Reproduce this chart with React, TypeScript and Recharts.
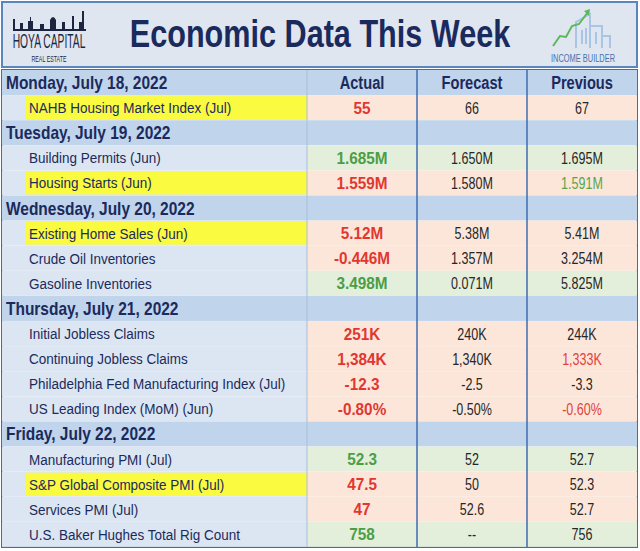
import React from 'react';
import { BarChart, Bar, XAxis, YAxis, ReferenceLine, ReferenceArea } from 'recharts';

// table content, one entry per row (day rows have no values)
const rowLabels = [
  'Monday, July 18, 2022',
  'NAHB Housing Market Index (Jul)',
  'Tuesday, July 19, 2022',
  'Building Permits (Jun)',
  'Housing Starts (Jun)',
  'Wednesday, July 20, 2022',
  'Existing Home Sales (Jun)',
  'Crude Oil Inventories',
  'Gasoline Inventories',
  'Thursday, July 21, 2022',
  'Initial Jobless Claims',
  'Continuing Jobless Claims',
  'Philadelphia Fed Manufacturing Index (Jul)',
  'US Leading Index (MoM) (Jun)',
  'Friday, July 22, 2022',
  'Manufacturing PMI (Jul)',
  'S&P Global Composite PMI (Jul)',
  'Services PMI (Jul)',
  'U.S. Baker Hughes Total Rig Count',
];
const dayRows = [0, 2, 5, 9, 14];
const highlightedRows = [1, 4, 6, 16];
const columnHeaders = ['Actual', 'Forecast', 'Previous'];

const actual = ['', '55', '', '1.685M', '1.559M', '', '5.12M', '-0.446M', '3.498M', '', '251K', '1,384K', '-12.3', '-0.80%', '', '52.3', '47.5', '47', '758'];
const forecast = ['', '66', '', '1.650M', '1.580M', '', '5.38M', '1.357M', '0.071M', '', '240K', '1,340K', '-2.5', '-0.50%', '', '52', '50', '52.6', '--'];
const previous = ['', '67', '', '1.695M', '1.591M', '', '5.41M', '3.254M', '5.825M', '', '244K', '1,333K', '-3.3', '-0.60%', '', '52.7', '52.3', '52.7', '756'];
// beat / miss of actual vs forecast
const outcome = ['', 'miss', '', 'beat', 'miss', '', 'miss', 'miss', 'beat', '', 'miss', 'miss', 'miss', 'miss', '', 'beat', 'miss', 'miss', 'beat'];
// revisions shown in colour in the Previous column
const previousTone = ['', '', '', '', 'beat', '', '', '', '', '', '', 'miss', '', 'miss', '', '', '', '', ''];

const COL_W = [305, 110, 110, 110];
const FONT = '"Liberation Sans", Arial, sans-serif';
const NAVY = '#1b2a5c';
const LABEL_BG = '#dce6f2';
const DAY_BG = '#c0d4eb';
const RED_BG = '#fce6da';
const GREEN_BG = '#e3efdb';
const YELLOW = '#fafa40';
const RED = '#e23631';
const GREEN = '#4b9e45';
const BORDER = '#3f6db0';

const rows = rowLabels.map((label, i) => ({
  key: `r${i}`,
  label,
  isDay: dayRows.includes(i),
  highlight: highlightedRows.includes(i),
  values: [actual[i], forecast[i], previous[i]],
  outcome: outcome[i],
  previousTone: previousTone[i],
}));

// horizontally squeezed text, to mimic the condensed face of the original
function SText({ x, y, sx, anchor = 'start', size, weight = 'normal', fill, children }: any) {
  return (
    <text
      transform={`translate(${x},${y}) scale(${sx},1)`}
      textAnchor={anchor}
      fontFamily={FONT}
      fontSize={size}
      fontWeight={weight}
      fill={fill}
    >
      {children}
    </text>
  );
}

const renderCell = (col: number) => (props: any) => {
  const { x, y, width, height, index } = props;
  const row = rows[index];
  const cy = y + height / 2;
  if (col === 0) {
    return (
      <g>
        <rect x={x} y={y} width={width} height={height} fill={row.isDay ? DAY_BG : LABEL_BG} />
        {row.highlight && <rect x={x + 24} y={y + 1} width={width - 24} height={height - 2} fill={YELLOW} />}
        {row.isDay ? (
          <SText x={x + 4} y={cy + 6.5} sx={0.86} size={18} weight="bold" fill={NAVY}>{row.label}</SText>
        ) : (
          <SText x={x + 27} y={cy + 5.5} sx={0.87} size={15.5} fill={NAVY}>{row.label}</SText>
        )}
      </g>
    );
  }
  const fill = row.isDay ? DAY_BG : row.outcome === 'beat' ? GREEN_BG : RED_BG;
  const cx = x + width / 2;
  let cell = null;
  if (row.isDay) {
    if (index === 0) {
      cell = <SText x={cx} y={cy + 6.5} sx={0.77} anchor="middle" size={19} weight="bold" fill={NAVY}>{columnHeaders[col - 1]}</SText>;
    }
  } else if (col === 1) {
    cell = (
      <SText x={cx} y={cy + 6} sx={0.9} anchor="middle" size={17} weight="bold" fill={row.outcome === 'beat' ? GREEN : RED}>
        {row.values[0]}
      </SText>
    );
  } else {
    const tone = col === 3 ? row.previousTone : '';
    const color = tone === 'beat' ? '#55a64c' : tone === 'miss' ? '#e0443c' : '#262626';
    cell = <SText x={cx} y={cy + 6} sx={0.76} anchor="middle" size={16.5} fill={color}>{row.values[col - 1]}</SText>;
  }
  return (
    <g>
      <rect x={x} y={y} width={width} height={height} fill={fill} />
      {cell}
    </g>
  );
};

function Banner() {
  return (
    <svg width={640} height={70} style={{ position: 'absolute', left: 0, top: 0 }}>
      <rect x={2} y={2} width={635} height={65} fill="#dfe6f0" stroke="#5b85bd" strokeWidth={2} />
      {/* left logo */}
      <path
        d="M13 29 V19 H15 V29 H20 V23 H23 V29 H28 V21 H30 V17 H31 V21 H33 V29 H40 V24 H44 V29 H50 V20 Q53 14 56 20 V29 H62 V22 H65 V29 H72 V16 H74 V29 H79 V22 H82 V11 H84 V29 H86 V31 H13 Z"
        fill="#1d2640"
      />
      <SText x={49} y={48} sx={0.49} anchor="middle" size={21} fill="#1d2640">HOYA CAPITAL</SText>
      <SText x={49} y={62} sx={0.56} anchor="middle" size={9.5} fill="#1d2640">REAL ESTATE</SText>
      {/* title */}
      <SText x={320} y={47} sx={0.785} anchor="middle" size={39} weight="bold" fill={NAVY}>Economic Data This Week</SText>
      {/* right logo */}
      <g fill="none" stroke="#a9c5e6" strokeWidth={2}>
        <path d="M576 48 V22 L590 14 V48" />
        <path d="M590 48 V26 H602 V48" />
        <path d="M602 48 V36 H610 V48" />
        <path d="M582 30 V44 M586 28 V44 M596 32 V44" />
      </g>
      <path d="M553 46 L560 36 L566 37 L572 26 L579 24 L588 12" fill="none" stroke="#5cb85c" strokeWidth={2} />
      <path d="M584 11 L590 9 L589 16 Z" fill="#5cb85c" />
      <SText x={583} y={62} sx={0.71} anchor="middle" size={10.5} fill="#4873ac">INCOME BUILDER</SText>
    </svg>
  );
}

export default function App() {
  return (
    <div style={{ position: 'relative', width: 640, height: 551, background: '#fff' }}>
      <style>{'body{margin:0}'}</style>
      <BarChart
        width={640}
        height={551}
        data={rows}
        layout="vertical"
        margin={{ top: 70, right: 3, bottom: 4, left: 2 }}
        barCategoryGap={0}
        barGap={0}
      >
        <XAxis type="number" domain={[0, 635]} hide />
        <YAxis type="category" dataKey="key" hide width={0} />
        {COL_W.map((w, col) => (
          <Bar
            key={col}
            dataKey={() => w}
            stackId="table"
            isAnimationActive={false}
            shape={renderCell(col)}
          />
        ))}
        <ReferenceLine x={305} stroke="#a9bedb" strokeWidth={1} />
        <ReferenceLine x={415} stroke={BORDER} strokeWidth={1.5} />
        <ReferenceLine x={525} stroke={BORDER} strokeWidth={1.5} />
        <ReferenceArea x1={0} x2={635} fill="none" stroke={BORDER} strokeWidth={2} fillOpacity={0} />
      </BarChart>
      <Banner />
    </div>
  );
}
